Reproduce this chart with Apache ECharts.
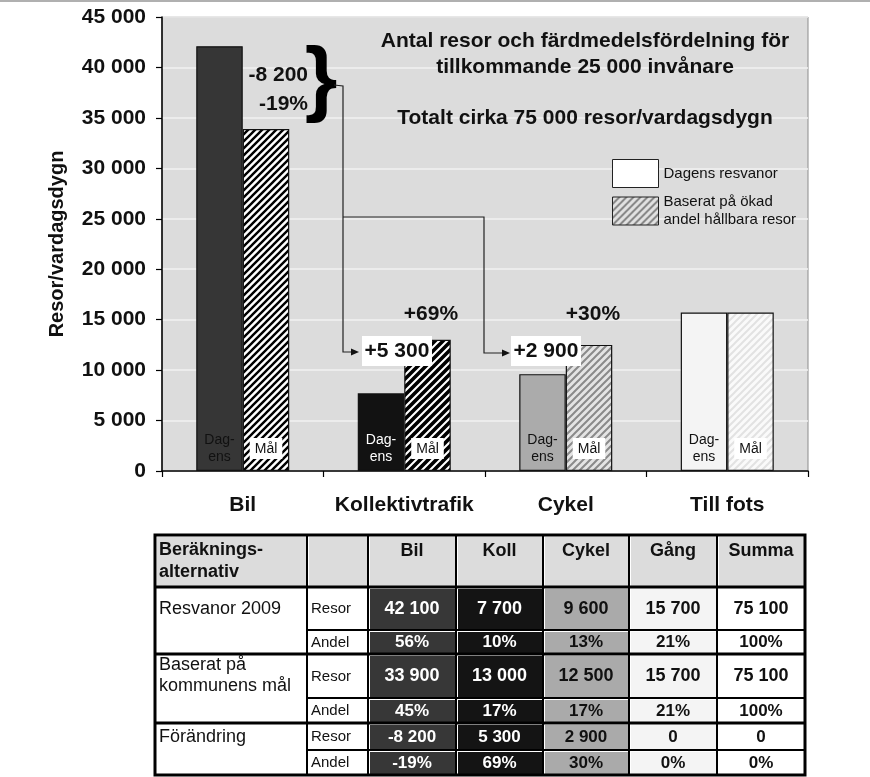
<!DOCTYPE html>
<html><head><meta charset="utf-8">
<script src="https://cdn.jsdelivr.net/npm/echarts@6/dist/echarts.min.js"></script>
<style>html,body{margin:0;padding:0;background:#fff}#c{width:870px;height:777px}</style>
</head><body><div id="c"></div>
<script>
// ---- data ----
const categories = ['Bil', 'Kollektivtrafik', 'Cykel', 'Till fots'];
const dagens = [42100, 7700, 9600, 15700];
const mal = [33900, 13000, 12500, 15700];
const seriesNames = ['Dagens resvanor', 'Baserat på ökad\nandel hållbara resor'];
const yAxisName = 'Resor/vardagsdygn';
const titleLines = ['Antal resor och färdmedelsfördelning för', 'tillkommande 25 000 invånare', 'Totalt cirka 75 000 resor/vardagsdygn'];
const bilChange = ['-8 200', '-19%'];
const kollChange = ['+5 300', '+69%'];
const cykelChange = ['+2 900', '+30%'];
const tableHeader = ['Beräknings-\nalternativ', '', 'Bil', 'Koll', 'Cykel', 'Gång', 'Summa'];
const groupLabels = ['Resvanor 2009', 'Baserat på\nkommunens mål', 'Förändring'];
const rowKinds = ['Resor', 'Andel'];
const resvanorResor = [42100, 7700, 9600, 15700, 75100];
const resvanorAndel = [56, 10, 13, 21, 100];
const malResor = [33900, 13000, 12500, 15700, 75100];
const malAndel = [45, 17, 17, 21, 100];
const forandResor = [-8200, 5300, 2900, 0, 0];
const forandAndel = [-19, 69, 30, 0, 0];

// ---- helpers ----
const FF = '"Liberation Sans", Arial, sans-serif';
function fmt(n) { const s = Math.abs(n).toString().replace(/\B(?=(\d{3})+(?!\d))/g, ' '); return (n < 0 ? '-' : '') + s; }
function hatch(bg, fg, s, w) {
  const c = document.createElement('canvas'); c.width = s; c.height = s;
  const g = c.getContext('2d'); g.fillStyle = bg; g.fillRect(0, 0, s, s);
  g.strokeStyle = fg; g.lineWidth = w; g.beginPath();
  for (let k = -1; k <= 1; k++) { g.moveTo(k * s - s, 2 * s); g.lineTo(k * s + 2 * s, -s); }
  g.stroke();
  return { image: c, repeat: 'repeat' };
}
const dagensColors = ['#363636', '#121212', '#ababab', '#f4f4f4'];
const dagensLabelColors = ['#111', '#fff', '#111', '#111'];
const malPatterns = [hatch('#ffffff', '#000', 7, 2.4), hatch('#ffffff', '#000', 8, 3.6), hatch('#e4e4e4', '#8a8a8a', 7, 2), hatch('#fafafa', '#e2e2e2', 7, 2)];
const legendPattern = hatch('#e2e2e2', '#7a7a7a', 7, 1.8);

const chart = echarts.init(document.getElementById('c'), null, { renderer: 'canvas' });

// ---- graphics: annotations ----
const G = [];
const Z = 100;
G.push({ type: 'line', z: Z, shape: { x1: 0, y1: 1, x2: 870, y2: 1 }, style: { stroke: '#b0b0b0', lineWidth: 2 } });
titleLines.forEach((t, i) => G.push({ type: 'text', z: Z, x: 585, y: [41, 67, 118][i], style: { text: t, font: 'bold 21px ' + FF, fill: '#111', align: 'center', verticalAlign: 'middle' } }));
G.push({ type: 'text', z: Z, x: 308, y: 75, style: { text: bilChange[0], font: 'bold 21px ' + FF, fill: '#111', align: 'right', verticalAlign: 'middle' } });
G.push({ type: 'text', z: Z, x: 308, y: 104, style: { text: bilChange[1], font: 'bold 21px ' + FF, fill: '#111', align: 'right', verticalAlign: 'middle' } });
G.push({ type: 'text', z: Z, x: 321, y: 83, style: { text: '}', font: 'bold 84px ' + FF, fill: '#000', align: 'center', verticalAlign: 'middle' } });
const lineStyle = { stroke: '#222', lineWidth: 1.2, fill: null };
G.push({ type: 'polyline', z: Z, shape: { points: [[334, 85], [343, 86], [343, 352], [352, 352]] }, style: lineStyle });
G.push({ type: 'polyline', z: Z, shape: { points: [[343, 217], [484, 217], [484, 353], [503, 353]] }, style: lineStyle });
G.push({ type: 'polygon', z: Z, shape: { points: [[351, 348.5], [359, 352], [351, 355.5]] }, style: { fill: '#111' } });
G.push({ type: 'polygon', z: Z, shape: { points: [[502, 349.5], [510, 353], [502, 356.5]] }, style: { fill: '#111' } });
G.push({ type: 'rect', z: Z, shape: { x: 362, y: 336, width: 70, height: 30 }, style: { fill: '#fff' } });
G.push({ type: 'text', z: Z, x: 397, y: 351, style: { text: kollChange[0], font: 'bold 21px ' + FF, fill: '#111', align: 'center', verticalAlign: 'middle' } });
G.push({ type: 'rect', z: Z, shape: { x: 511, y: 336, width: 70, height: 30 }, style: { fill: '#fff' } });
G.push({ type: 'text', z: Z, x: 546, y: 351, style: { text: cykelChange[0], font: 'bold 21px ' + FF, fill: '#111', align: 'center', verticalAlign: 'middle' } });
G.push({ type: 'text', z: Z, x: 431, y: 314, style: { text: kollChange[1], font: 'bold 21px ' + FF, fill: '#111', align: 'center', verticalAlign: 'middle' } });
G.push({ type: 'text', z: Z, x: 593, y: 314, style: { text: cykelChange[1], font: 'bold 21px ' + FF, fill: '#111', align: 'center', verticalAlign: 'middle' } });

// ---- graphics: table ----
const colX = [155, 307, 368, 456, 543, 629, 717, 805];
const rowY = [535, 587, 630, 654, 698, 723, 750, 775];
const colFill = ['#373737', '#141414', '#aaaaaa', '#f4f4f4', '#ffffff'];
const colText = ['#fff', '#fff', '#111', '#111', '#111'];
const bodyRows = [resvanorResor, resvanorAndel, malResor, malAndel, forandResor, forandAndel];
G.push({ type: 'rect', z: Z, shape: { x: colX[0], y: rowY[0], width: colX[7] - colX[0], height: rowY[7] - rowY[0] }, style: { fill: '#fff' } });
for (let c = 0; c < 7; c++) {
  G.push({ type: 'rect', z: Z, shape: { x: colX[c] + 2, y: rowY[0] + 2, width: colX[c + 1] - colX[c] - 3, height: rowY[1] - rowY[0] - 3 }, style: { fill: '#dcdcdc' } });
}
bodyRows.forEach((vals, r) => {
  vals.forEach((v, c) => {
    const x0 = colX[c + 2], x1 = colX[c + 3], y0 = rowY[r + 1], y1 = rowY[r + 2];
    G.push({ type: 'rect', z: Z, shape: { x: x0 + 2, y: y0 + 2, width: x1 - x0 - 3, height: y1 - y0 - 3 }, style: { fill: colFill[c] } });
    const txt = (r % 2 === 1) ? v + '%' : fmt(v);
    const fs = (r % 2 === 0 && r < 4) ? 18 : 17;
    G.push({ type: 'text', z: Z + 1, x: (x0 + x1) / 2, y: (y0 + y1) / 2 + 0.5, style: { text: txt, font: 'bold ' + fs + 'px ' + FF, fill: colText[c], align: 'center', verticalAlign: 'middle' } });
  });
  G.push({ type: 'text', z: Z + 1, x: 311, y: (rowY[r + 1] + rowY[r + 2]) / 2 + 0.5, style: { text: rowKinds[r % 2], font: '15px ' + FF, fill: '#111', align: 'left', verticalAlign: 'middle' } });
});
// header texts
G.push({ type: 'text', z: Z + 1, x: 159, y: 561.5, style: { text: tableHeader[0], font: 'bold 18px ' + FF, lineHeight: 22, fill: '#111', align: 'left', verticalAlign: 'middle' } });
for (let c = 2; c < 7; c++) {
  G.push({ type: 'text', z: Z + 1, x: (colX[c] + colX[c + 1]) / 2, y: 551, style: { text: tableHeader[c], font: 'bold 18px ' + FF, fill: '#111', align: 'center', verticalAlign: 'middle' } });
}
const groupLabelY = [609, 675.5, 737];
groupLabels.forEach((t, i) => G.push({ type: 'text', z: Z + 1, x: 159, y: groupLabelY[i], style: { text: t, font: '18px ' + FF, lineHeight: 21, fill: '#111', align: 'left', verticalAlign: 'middle' } }));
// grid lines of the table
for (let c = 1; c < 7; c++) G.push({ type: 'line', z: Z + 2, shape: { x1: colX[c], y1: rowY[0], x2: colX[c], y2: rowY[7] }, style: { stroke: '#000', lineWidth: 2 } });
[rowY[1], rowY[3], rowY[5]].forEach(y => G.push({ type: 'line', z: Z + 2, shape: { x1: colX[0], y1: y, x2: colX[7], y2: y }, style: { stroke: '#000', lineWidth: 3 } }));
[rowY[2], rowY[4], rowY[6]].forEach(y => G.push({ type: 'line', z: Z + 2, shape: { x1: colX[1], y1: y, x2: colX[7], y2: y }, style: { stroke: '#000', lineWidth: 2 } }));
G.push({ type: 'rect', z: Z + 2, shape: { x: colX[0], y: rowY[0], width: colX[7] - colX[0], height: rowY[7] - rowY[0] }, style: { fill: null, stroke: '#000', lineWidth: 3 } });

const option = {
  animation: false,
  backgroundColor: '#ffffff',
  textStyle: { fontFamily: FF },
  grid: { left: 162, top: 17, width: 646, height: 454, show: true, backgroundColor: '#dcdcdc', borderColor: '#8c8c8c', borderWidth: 1 },
  legend: {
    left: 607, top: 154, orient: 'vertical', icon: 'rect', itemWidth: 46, itemHeight: 28, itemGap: -3,
    itemStyle: { borderColor: '#222', borderWidth: 1 },
    textStyle: { fontSize: 15, color: '#111', lineHeight: 18, fontFamily: FF },
    data: [
      { name: seriesNames[0] },
      { name: seriesNames[1], textStyle: { padding: [16, 0, 0, 0] } }
    ]
  },
  xAxis: {
    type: 'category', data: categories,
    axisLine: { lineStyle: { color: '#000', width: 1.5 } },
    axisTick: { show: true, length: 6, lineStyle: { color: '#000', width: 1.2 } },
    axisLabel: { interval: 0, fontSize: 21, fontWeight: 'bold', color: '#111', margin: 24, fontFamily: FF },
    splitLine: { show: false }
  },
  yAxis: {
    type: 'value', min: 0, max: 45000, interval: 5000,
    name: yAxisName, nameLocation: 'middle', nameGap: 95,
    nameTextStyle: { fontSize: 20, fontWeight: 'bold', color: '#111', fontFamily: FF },
    axisLine: { show: true, lineStyle: { color: '#000', width: 1.5 } },
    axisTick: { show: true, length: 6, lineStyle: { color: '#000', width: 1.2 } },
    axisLabel: { fontSize: 21, fontWeight: 'bold', color: '#111', margin: 16, fontFamily: FF, formatter: v => fmt(v) },
    splitLine: { lineStyle: { color: '#f2f2f2', width: 1.5 } }
  },
  series: [
    {
      name: seriesNames[0], type: 'bar', barWidth: 46.5, barGap: '0%',
      itemStyle: { color: '#ffffff', borderColor: '#111', borderWidth: 1.2 },
      label: { show: true, position: 'insideBottom', distance: 5, formatter: 'Dag-\nens', fontSize: 14, lineHeight: 17, fontFamily: FF },
      data: dagens.map((v, i) => ({ value: v, itemStyle: { color: dagensColors[i] }, label: { color: dagensLabelColors[i] } }))
    },
    {
      name: seriesNames[1], type: 'bar', barWidth: 46.5, barGap: '0%',
      itemStyle: { color: legendPattern, borderColor: '#111', borderWidth: 1.2 },
      label: { show: true, position: 'insideBottom', distance: 12, formatter: 'Mål', fontSize: 14, color: '#111', backgroundColor: '#fff', padding: [4, 5, 3, 5], fontFamily: FF },
      data: mal.map((v, i) => ({ value: v, itemStyle: { color: malPatterns[i] } }))
    }
  ],
  graphic: { elements: G }
};
chart.setOption(option);
</script></body></html>
